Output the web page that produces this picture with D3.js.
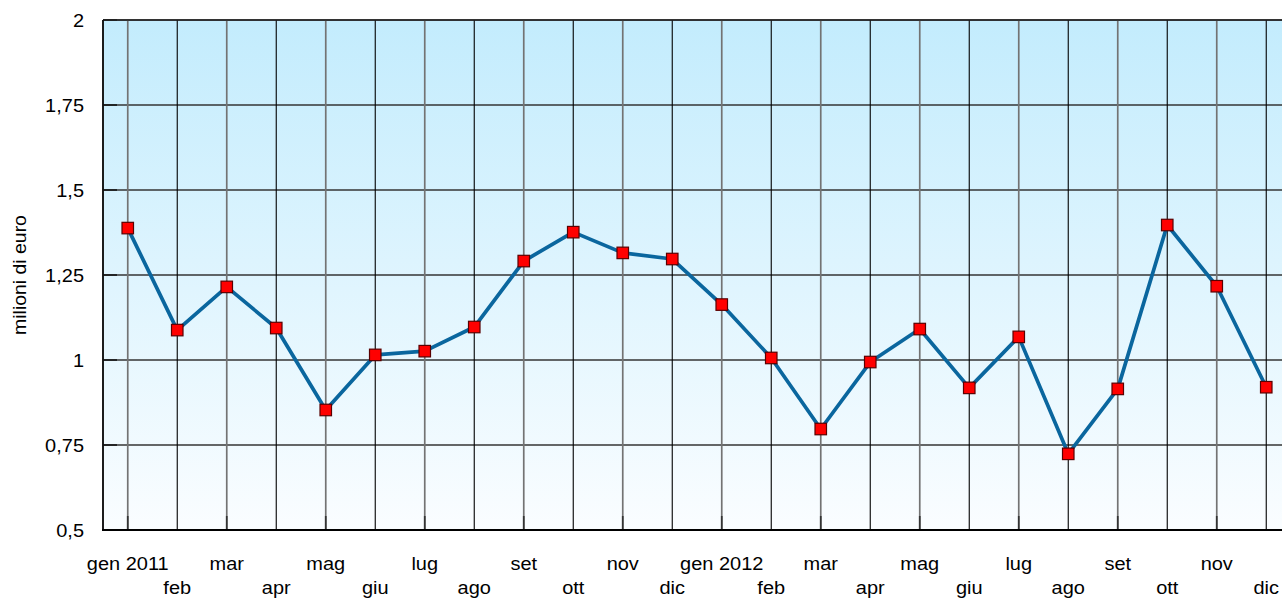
<!DOCTYPE html>
<html>
<head>
<meta charset="utf-8">
<script src="https://cdn.jsdelivr.net/npm/d3@7"></script>
<style>
  html, body { margin: 0; padding: 0; background: #fff; overflow: hidden; }
  text { font-family: "Liberation Sans", Arial, sans-serif; fill: #000; }
</style>
</head>
<body>
<svg id="chart" width="1282" height="598"></svg>
<script>
"use strict";

// months, two years
const months = ['gen 2011', 'feb', 'mar', 'apr', 'mag', 'giu', 'lug', 'ago', 'set', 'ott', 'nov', 'dic',
                'gen 2012', 'feb', 'mar', 'apr', 'mag', 'giu', 'lug', 'ago', 'set', 'ott', 'nov', 'dic'];

// milioni di euro
const values = [1.388, 1.088, 1.215, 1.094, 0.853, 1.015, 1.026, 1.097, 1.291, 1.376, 1.315, 1.297,
                1.163, 1.006, 0.797, 0.994, 1.091, 0.918, 1.068, 0.724, 0.915, 1.397, 1.217, 0.920];

const yTicks = [0.5, 0.75, 1, 1.25, 1.5, 1.75, 2];
const yTickLabels = ['0,5', '0,75', '1', '1,25', '1,5', '1,75', '2'];

const plotLeft = 103, plotTop = 20, plotBottom = 530;
const step = 49.5;
const plotRight = plotLeft + step * months.length;
const stretch = 1.08; // the original text is a bit wider than Arial

const svg = d3.select('#chart');

const defs = svg.append('defs');
const grad = defs.append('linearGradient')
  .attr('id', 'bg')
  .attr('x1', 0).attr('y1', 0).attr('x2', 0).attr('y2', 1);
grad.append('stop').attr('offset', '0%').attr('stop-color', '#c3ecfd');
grad.append('stop').attr('offset', '100%').attr('stop-color', '#fafdff');

const x = d3.scaleBand()
  .domain(d3.range(months.length))
  .range([plotLeft, plotRight])
  .padding(0);

const y = d3.scaleLinear()
  .domain([0.5, 2])
  .range([plotBottom, plotTop]);

const cx = i => x(i) + x.bandwidth() / 2;

// plot background
svg.append('rect')
  .attr('x', plotLeft).attr('y', plotTop)
  .attr('width', plotRight - plotLeft).attr('height', plotBottom - plotTop)
  .attr('fill', 'url(#bg)');

// horizontal grid
svg.append('g')
  .selectAll('line')
  .data(yTicks.slice(1))
  .enter().append('line')
    .attr('x1', plotLeft).attr('x2', plotRight)
    .attr('y1', d => y(d)).attr('y2', d => y(d))
    .attr('stroke', '#353535')
    .attr('stroke-width', 1.3);

// vertical grid, alternating grey / black
svg.append('g')
  .selectAll('line')
  .data(d3.range(months.length))
  .enter().append('line')
    .attr('x1', d => cx(d)).attr('x2', d => cx(d))
    .attr('y1', plotTop).attr('y2', plotBottom)
    .attr('stroke', d => d % 2 === 0 ? '#737373' : '#000')
    .attr('stroke-width', d => d % 2 === 0 ? 1.7 : 1.1);

// inward ticks
svg.append('g')
  .selectAll('line')
  .data(d3.range(0, months.length, 2))
  .enter().append('line')
    .attr('x1', d => cx(d)).attr('x2', d => cx(d))
    .attr('y1', plotBottom - 14).attr('y2', plotBottom)
    .attr('stroke', '#333')
    .attr('stroke-width', 1.7);

svg.append('g')
  .selectAll('line')
  .data(yTicks.slice(1))
  .enter().append('line')
    .attr('x1', plotLeft).attr('x2', plotLeft + 14)
    .attr('y1', d => y(d)).attr('y2', d => y(d))
    .attr('stroke', '#111')
    .attr('stroke-width', 1.5);

// frame
svg.append('line')
  .attr('x1', plotLeft).attr('x2', plotRight).attr('y1', plotTop).attr('y2', plotTop)
  .attr('stroke', '#222').attr('stroke-width', 1.7);
svg.append('line')
  .attr('x1', plotLeft).attr('x2', plotLeft).attr('y1', plotTop).attr('y2', plotBottom)
  .attr('stroke', '#111').attr('stroke-width', 1.9);
svg.append('line')
  .attr('x1', plotLeft - 1).attr('x2', plotRight).attr('y1', plotBottom).attr('y2', plotBottom)
  .attr('stroke', '#000').attr('stroke-width', 2.2);

// y tick labels
svg.append('g')
  .selectAll('text')
  .data(yTicks)
  .enter().append('text')
    .attr('transform', d => `translate(84,${y(d)}) scale(${stretch},1)`)
    .attr('dy', '0.36em')
    .attr('text-anchor', 'end')
    .style('font-size', '18.5px')
    .text((d, i) => yTickLabels[i]);

// x labels in two staggered rows
svg.append('g')
  .selectAll('text')
  .data(months)
  .enter().append('text')
    .attr('transform', (d, i) => `translate(${cx(i)},${i % 2 === 0 ? 570 : 594}) scale(${stretch},1)`)
    .attr('text-anchor', 'middle')
    .style('font-size', '18.5px')
    .text(d => d);

// y axis title
svg.append('text')
  .attr('transform', `translate(26,275) rotate(-90) scale(${stretch},1)`)
  .attr('text-anchor', 'middle')
  .style('font-size', '18px')
  .text('milioni di euro');

// series line
const line = d3.line()
  .x((d, i) => cx(i))
  .y(d => y(d));

svg.append('path')
  .datum(values)
  .attr('d', line)
  .attr('fill', 'none')
  .attr('stroke', '#0a669e')
  .attr('stroke-width', 3.7)
  .attr('stroke-linejoin', 'round');

// markers
const size = 11.5;
svg.append('g')
  .selectAll('rect')
  .data(values)
  .enter().append('rect')
    .attr('x', (d, i) => cx(i) - size / 2)
    .attr('y', d => y(d) - size / 2)
    .attr('width', size).attr('height', size)
    .attr('fill', '#ff0000')
    .attr('stroke', '#5a0000')
    .attr('stroke-width', 1.2);
</script>
</body>
</html>
